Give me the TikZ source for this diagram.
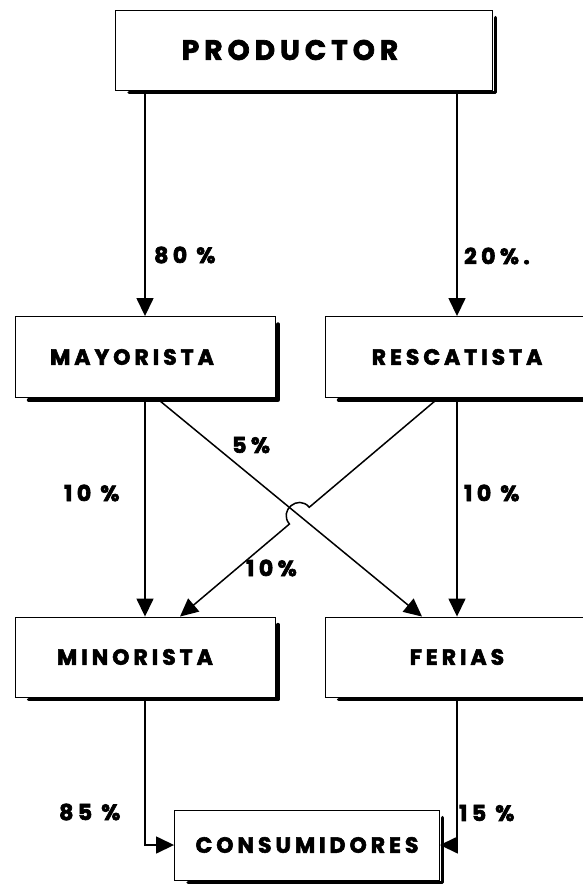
\documentclass[tikz,border=0pt]{standalone}
\usepackage{fontspec}
\setmainfont{Poppins}
\newfontfamily\boxfont{Poppins}[LetterSpace=18, BoldFeatures={FakeBold=2.5}]
\newfontfamily\pctfont{Poppins}[LetterSpace=20, BoldFeatures={FakeBold=3}]
\usetikzlibrary{arrows.meta,calc}
\newcommand\boxshadow[1]{%
  \draw[shadowline] ([xshift=14pt,yshift=-2pt]#1.south west) -- ([xshift=2.5pt,yshift=-2pt]#1.south east) -- ([xshift=2.5pt,yshift=-8pt]#1.north east);}
\begin{document}
\begin{tikzpicture}[x=1pt,y=-1pt,
  box/.style={draw, line width=0.9pt, rectangle, inner sep=0pt,
    font=\boxfont\bfseries\fontsize{22}{22}\selectfont},
  bigbox/.style={box, font=\boxfont\bfseries\fontsize{28}{28}\selectfont},
  shadowline/.style={line width=3.5pt, line join=round, line cap=round},
  conn/.style={line width=1.5pt},
  arr/.style={conn, -{Triangle[length=18pt,width=17pt]}},
  pct/.style={inner sep=0pt, anchor=west, font=\pctfont\bfseries\fontsize{22}{22}\selectfont}]
\useasboundingbox (0,0) rectangle (583,889);
% boxes
\node[bigbox, minimum width=377pt, minimum height=80pt] (prod) at (304,50) {PRODUCTOR\hspace*{28pt}};
\node[box, minimum width=260pt, minimum height=81pt] (may) at (145,357) {MAYORISTA\hspace*{26pt}};
\node[box, minimum width=264pt, minimum height=81pt] (res) at (457,357) {RESCATISTA};
\node[box, minimum width=260pt, minimum height=80pt] (min) at (145,657) {MINORISTA\hspace*{20pt}};
\node[box, minimum width=264pt, minimum height=80pt] (fer) at (457,657) {FERIAS};
\node[box, minimum width=265pt, minimum height=70pt] (cons) at (307,845) {CONSUMIDORES};
\boxshadow{prod}
\boxshadow{may}
\boxshadow{res}
\boxshadow{min}
\boxshadow{fer}
\boxshadow{cons}
% producer arrows
\draw[arr] (prod.south -| may.north) -- (may.north);
\draw[arr] (prod.south -| res.north) -- (res.north);
% verticals
\draw[arr] (may.south) -- (min.north);
\draw[arr] (res.south) -- (fer.north);
% diagonals
\coordinate (ms) at ([xshift=15pt,yshift=-3pt]may.south);
\coordinate (fe) at ([xshift=-35pt]fer.north);
\coordinate (rs) at ([xshift=-22pt,yshift=-3pt]res.south);
\coordinate (me) at ([xshift=35pt]min.north);
\coordinate (X) at (intersection of ms--fe and rs--me);
\coordinate (A) at ($(X)!13pt!(rs)$);
\coordinate (B) at ($(X)!13pt!(me)$);
\coordinate (C1) at ($(A)+(-11.2,-13.2)$);
\coordinate (C2) at ($(B)+(-11.2,-13.2)$);
\draw[arr] (ms) -- (fe);
\draw[arr] (rs) -- (A) .. controls (C1) and (C2) .. (B) -- (me);
% to consumers
\draw[arr] (min.south) |- (cons.west);
\draw[arr] (fer.south) |- (cons.east);
% labels
\node[pct] (l1) at (154,255) {80 \%};
\node[pct] (l2) at (464,256) {20\%.};
\node[pct] (l3) at (232,445) {5\%};
\node[pct] (l4) at (64,493) {10 \%};
\node[pct] (l5) at (464,493) {10 \%};
\node[pct] (l6) at (246,568) {10\%};
\node[pct] (l7) at (59,812) {85 \%};
\node[pct] (l8) at (459,813) {15 \%};
\end{tikzpicture}
\end{document}
